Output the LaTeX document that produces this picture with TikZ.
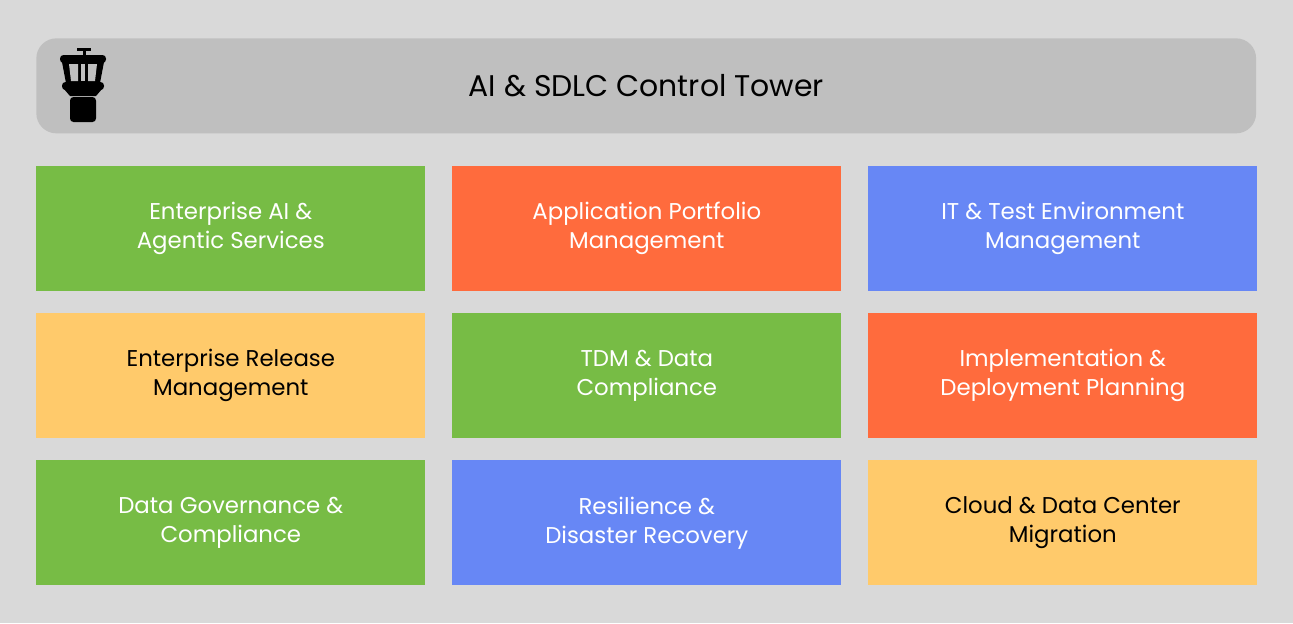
\documentclass[tikz,border=0pt]{standalone}
\usepackage{fontspec}
\setmainfont{Poppins}
\begin{document}
\begin{tikzpicture}[x=0.02cm,y=-0.02cm,
  tile/.style={minimum width=7.78cm,minimum height=2.5cm,anchor=north west,inner sep=0pt,align=center,font=\fontsize{13}{16.5}\selectfont},
  wt/.style={text=white},bk/.style={text=black}]
\definecolor{bg}{HTML}{D9D9D9}\definecolor{hd}{HTML}{BFBFBF}
\definecolor{gr}{HTML}{77BC45}\definecolor{orx}{HTML}{FF6B3D}
\definecolor{bl}{HTML}{6787F5}\definecolor{ye}{HTML}{FFCA6B}
\fill[bg] (0,0) rectangle (1293,623);
\useasboundingbox (0,0) rectangle (1293,623);
\node[fill=hd,rounded corners=0.4cm,minimum width=24.4cm,minimum height=1.9cm,anchor=north west,inner sep=0pt,font=\fontsize{17}{20}\selectfont] (hdr) at (36,38) {AI \& SDLC Control Tower};
% tower icon
\fill[black] (77,48) rectangle (91,51);
\fill[black] (82.5,50) rectangle (85.5,56);
\fill[black,rounded corners=2] (60,55) rectangle (106,63);
\fill[black] (62,62) -- (104,62) -- (100,83) -- (66,83) -- cycle;
\fill[hd] (69,64) -- (78,64) -- (78,81) -- (71,81) -- cycle;
\fill[hd] (81,64) -- (85,64) -- (85,81) -- (81,81) -- cycle;
\fill[hd] (88,64) -- (97,64) -- (95,81) -- (88,81) -- cycle;
\fill[black,rounded corners=2] (62,82) rectangle (104,90);
\fill[black] (64,89) -- (102,89) -- (96,96) -- (70,96) -- cycle;
\fill[black,rounded corners=2] (70,97) rectangle (96,122);
\node[tile,fill=gr,wt] (a1) at (36,166) {Enterprise AI \&\\Agentic Services};
\node[tile,fill=orx,wt] (a2) at (452,166) {Application Portfolio\\Management};
\node[tile,fill=bl,wt] (a3) at (868,166) {IT \& Test Environment\\Management};
\node[tile,fill=ye,bk] (b1) at (36,313) {Enterprise Release\\Management};
\node[tile,fill=gr,wt] (b2) at (452,313) {TDM \& Data\\Compliance};
\node[tile,fill=orx,wt] (b3) at (868,313) {Implementation \&\\Deployment Planning};
\node[tile,fill=gr,wt] (c1) at (36,460) {Data Governance \&\\Compliance};
\node[tile,fill=bl,wt] (c2) at (452,460) {Resilience \&\\Disaster Recovery};
\node[tile,fill=ye,bk] (c3) at (868,460) {Cloud \& Data Center\\Migration};
\end{tikzpicture}
\end{document}
